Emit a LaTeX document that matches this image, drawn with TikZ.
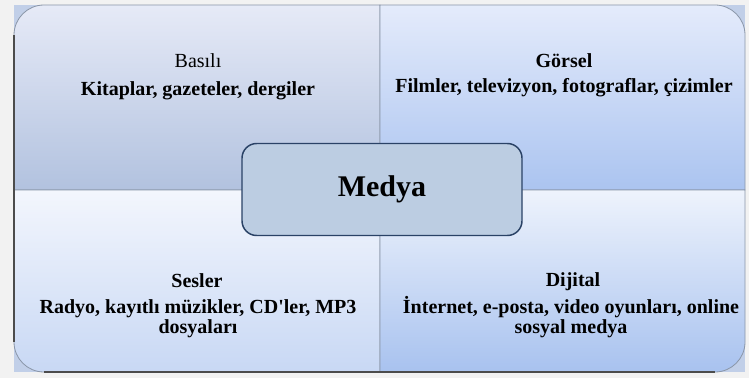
\documentclass[tikz,border=0pt]{standalone}
\usepackage{fontspec}
\setmainfont{Liberation Serif}
\usetikzlibrary{positioning}
\definecolor{tlTop}{HTML}{E6EAF7}
\definecolor{tlBot}{HTML}{B2C2DF}
\definecolor{trTop}{HTML}{E4EBFB}
\definecolor{trBot}{HTML}{ABC4F0}
\definecolor{blTop}{HTML}{F3F6FD}
\definecolor{blBot}{HTML}{C8D8F4}
\definecolor{brTop}{HTML}{EEF3FC}
\definecolor{brBot}{HTML}{A8C2EF}
\definecolor{medyaFill}{HTML}{BCCDE2}
\definecolor{medyaLine}{HTML}{2A4266}
\definecolor{edgeGray}{HTML}{8A96A8}

\begin{document}
\begin{tikzpicture}[x=0.75pt, y=-0.75pt,
  quad/.style={draw=edgeGray, line width=0.6pt},
  hd/.style={font=\fontsize{15}{15}\selectfont\bfseries, anchor=base, inner sep=0pt},
  bd/.style={font=\fontsize{15}{15}\selectfont\bfseries, anchor=base, align=center, inner sep=0pt}]
\useasboundingbox (0,0) rectangle (749,378);
\fill[gray!10] (0,0) rectangle (749,378);

% backdrop behind the rounded corners
\fill[blBot!90!gray] (14,5) rectangle (745,372);

% four quadrants, one rounded outer corner each
\draw[quad, top color=tlTop, bottom color=tlBot]
  (380,5) -- (44,5) arc[start angle=-90, end angle=-180, radius=30] -- (14,190) -- (380,190) -- cycle;
\draw[quad, top color=trTop, bottom color=trBot]
  (380,190) -- (380,5) -- (715,5) arc[start angle=-90, end angle=0, radius=30] -- (745,190) -- cycle;
\draw[quad, top color=blTop, bottom color=blBot]
  (380,190) -- (14,190) -- (14,342) arc[start angle=180, end angle=90, radius=30] -- (380,372) -- cycle;
\draw[quad, top color=brTop, bottom color=brBot]
  (380,190) -- (380,372) -- (715,372) arc[start angle=90, end angle=0, radius=30] -- (745,190) -- cycle;

% shadow on the outer left and bottom edge
\draw[gray!60!black, line width=1.1pt] (14,35) -- (14,342);
\draw[gray!60!black, line width=0.9pt] (44,372) -- (715,372);

% texts
\node[hd, font=\fontsize{15}{15}\selectfont] (basili) at (198,68) {Basılı};
\node[bd] (basiliTxt) at (198,95) {Kitaplar, gazeteler, dergiler};
\node[hd] (gorsel) at (564,68) {Görsel};
\node[bd] (gorselTxt) at (564,93) {Filmler, televizyon, fotograflar, çizimler};
\node[hd] (sesler) at (197,287) {Sesler};
\node[bd] (seslerTxt) at (198,333) {Radyo, kayıtlı müzikler, CD\textquotesingle ler, MP3\\dosyaları};
\node[hd] (dijital) at (573,286) {Dijital};
\node[bd] (dijitalTxt) at (571,333) {İnternet, e-posta, video oyunları, online\\sosyal medya};

% center box
\node[draw=medyaLine, fill=medyaFill, line width=1.1pt, rounded corners=11pt,
      minimum width=210pt, minimum height=69pt, inner sep=0pt,
      font=\fontsize{22.5}{24}\selectfont\bfseries] (medya) at (382,189.5) {Medya};
\end{tikzpicture}
\end{document}
